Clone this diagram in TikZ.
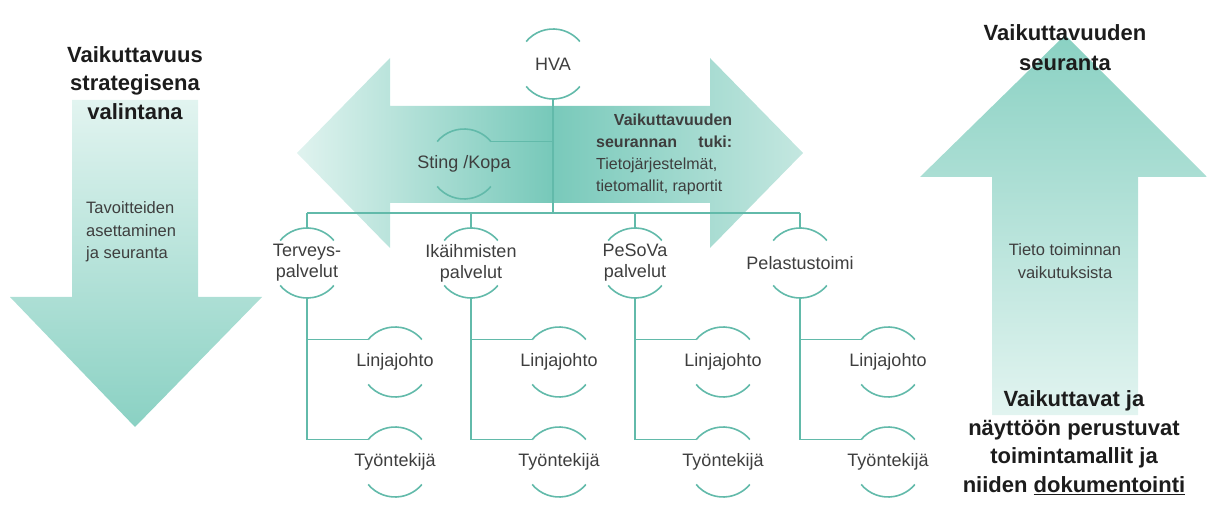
\documentclass[tikz,border=0pt]{standalone}
\usepackage{fontspec}
\setmainfont{Liberation Sans}
\usetikzlibrary{calc}
\definecolor{tl}{RGB}{98,186,170}
\definecolor{adark}{RGB}{138,209,195}
\definecolor{alight}{RGB}{226,244,240}
\definecolor{mdark}{RGB}{120,201,186}
\definecolor{mlight}{RGB}{224,243,239}
\definecolor{mlightb}{RGB}{196,231,224}
\definecolor{txt}{RGB}{28,28,28}
\newcommand\orgarcs[1]{%
  \draw[tline] (#1.140) arc[start angle=140,end angle=40,radius=35];
  \draw[tline] (#1.220) arc[start angle=220,end angle=320,radius=35];}
\begin{document}
\begin{tikzpicture}[x=1pt,y=1pt,
  tline/.style={draw=tl, line width=1.6pt},
  org/.style={circle, minimum size=70pt, inner sep=0pt, outer sep=0pt},
  lab/.style={font=\fontsize{18}{21}\selectfont, text=txt!85, align=center, inner sep=0pt},
  bigtitle/.style={font=\fontsize{22}{28.5}\selectfont\bfseries, text=txt, align=center, inner sep=0pt},
  inner/.style={font=\fontsize{16.5}{22.5}\selectfont, text=txt!85, inner sep=0pt},
  bigarrow/.style={draw=none}]
\useasboundingbox (0,0) rectangle (1207,528);

% left arrow (down)
\path[bigarrow, top color=alight, bottom color=adark]
  (72,428) -- (198,428) -- (198,231) -- (262,231) -- (135,101) -- (10,231) -- (72,231) -- cycle;
% right arrow (up)
\path[bigarrow, top color=adark, bottom color=alight]
  (992,113) -- (1138,113) -- (1138,351) -- (1207,351) -- (1065,493) -- (920,351) -- (992,351) -- cycle;
% middle double arrow
\path[bigarrow, left color=mlight, right color=mlightb, middle color=mdark]
  (297,375) -- (390,470) -- (390,422) -- (710,422) -- (710,470) -- (803,375)
  -- (710,280) -- (710,325) -- (390,325) -- (390,280) -- cycle;

% texts of the big arrows
\node[bigtitle] (ltitle) at (135,445) {Vaikuttavuus\\strategisena\\valintana};
\node[inner, align=left, anchor=west] (ltext) at (86,296) {Tavoitteiden\\asettaminen\\ja seuranta};
\node[bigtitle, font=\fontsize{22}{30}\selectfont\bfseries] (rtitle) at (1065,480) {Vaikuttavuuden\\seuranta};
\node[inner, align=center] (rtext) at (1065,267) {Tieto toiminnan\\vaikutuksista};
\node[bigtitle] (rbottom) at (1074,85.5) {Vaikuttavat ja\\näyttöön perustuvat\\toimintamallit ja\\niiden \underline{dokumentointi}};
\node[inner, font=\fontsize{16}{22}\selectfont, align=left, anchor=west] (mtext) at (596,374)
  {\makebox[136pt][r]{\bfseries Vaikuttavuuden}\\
   \makebox[136pt][s]{\bfseries seurannan\hfill tuki:}\\
   Tietojärjestelmät,\\tietomallit, raportit};

% organisation nodes
\node[org, label={[lab]center:HVA}] (hva) at (553,464) {};
\node[org, label={[lab]center:Sting /Kopa}] (sting) at (464,364) {};
\node[org, label={[lab]center:{Terveys-\\palvelut}}] (c1) at (307,265) {};
\node[org, label={[lab]center:{Ikäihmisten\\palvelut}}] (c2) at (471,265) {};
\node[org, label={[lab]center:{PeSoVa\\palvelut}}] (c3) at (635,265) {};
\node[org, label={[lab]center:Pelastustoimi}] (c4) at (800,265) {};
\foreach \i/\x in {1/307,2/471,3/635,4/800}{
  \node[org, label={[lab]center:Linjajohto}] (l\i) at (\x+88,166) {};
  \node[org, label={[lab]center:Työntekijä}] (t\i) at (\x+88,66) {};
}
\coordinate (busL) at (307,315);
\coordinate (busR) at (800,315);

% arcs
\foreach \n in {hva,sting,c1,c2,c3,c4,l1,l2,l3,l4,t1,t2,t3,t4}{\orgarcs{\n}}

% connectors
\draw[tline] (busL) -- (busR);
\draw[tline] (hva.south) -- (hva.south |- busL);
\draw[tline] (sting.40) -- (sting.40 -| hva.south);
\foreach \i in {1,2,3,4}{
  \draw[tline] (c\i.north) -- (c\i.north |- busL);
  \draw[tline] (c\i.south) |- (t\i.140);
  \draw[tline] (l\i.140 -| c\i.south) -- (l\i.140);
}
\end{tikzpicture}
\end{document}
